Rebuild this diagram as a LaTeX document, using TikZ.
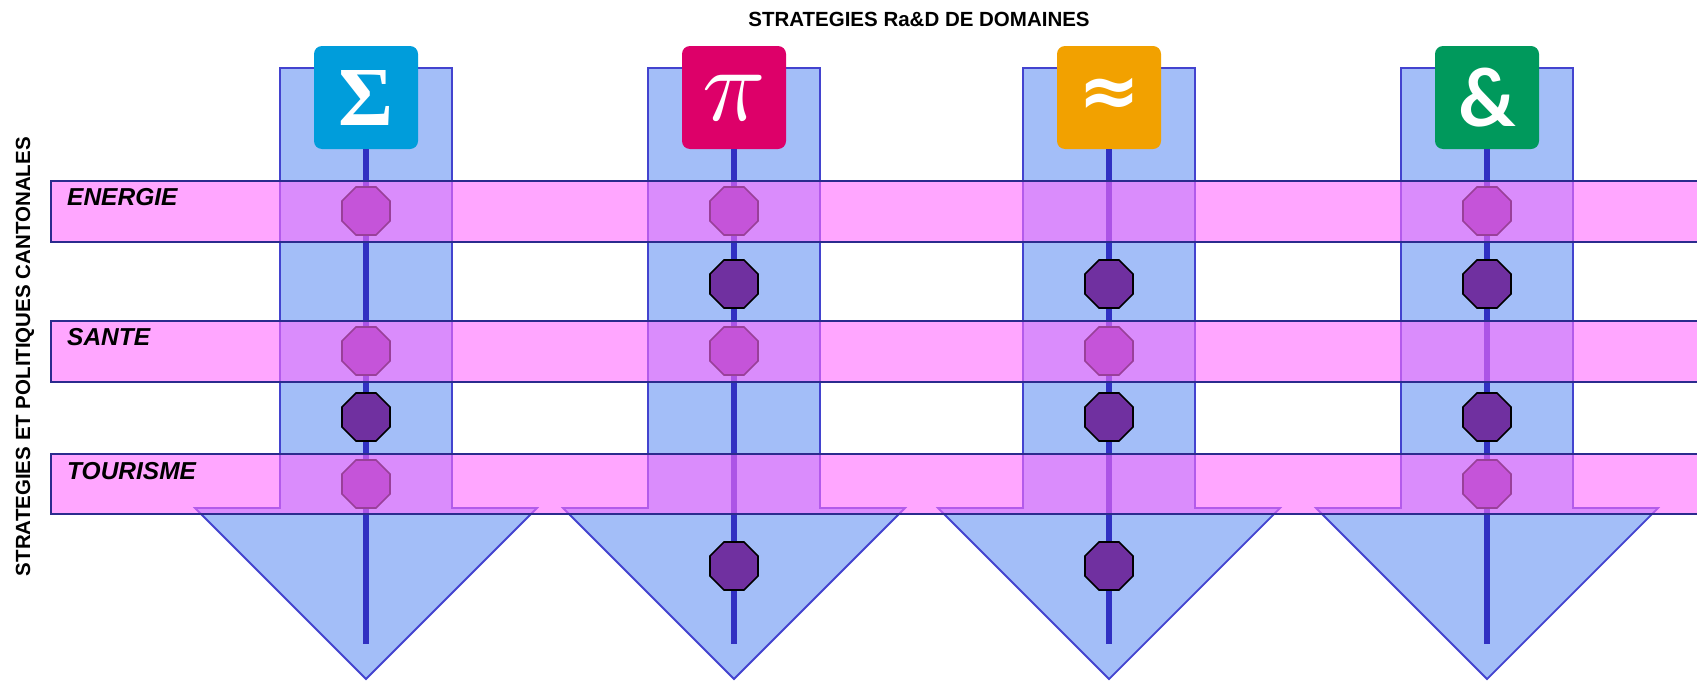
\documentclass[tikz,border=0pt]{standalone}
\usepackage{graphicx}
\usepackage{fontspec}
\setmainfont{Liberation Sans}
\newfontfamily\symserif{Liberation Serif}
\newfontfamily\symsans{Lato}
\newfontfamily\symdeja{DejaVu Sans}
\usetikzlibrary{shapes.geometric}
\definecolor{arrowfill}{HTML}{A3BEF8}
\definecolor{arrowdraw}{HTML}{4343CF}
\definecolor{vlinecol}{HTML}{3030C2}
\definecolor{banddraw}{HTML}{2B2B8E}
\definecolor{bandfill}{HTML}{FF6CFF}
\definecolor{octofill}{HTML}{7030A0}
\definecolor{boxsigma}{HTML}{009DDB}
\definecolor{boxpi}{HTML}{DD0069}
\definecolor{boxapprox}{HTML}{F2A100}
\definecolor{boxamp}{HTML}{00995C}
\begin{document}
\begin{tikzpicture}[x=1pt,y=-1pt,
  arrowshape/.style={fill=arrowfill, draw=arrowdraw, line width=1.8pt, line join=miter},
  vline/.style={draw=vlinecol, line width=6pt},
  iconbox/.style={rectangle, rounded corners=8pt, minimum width=104pt, minimum height=103pt, inner sep=0pt, text=white},
  octo/.style={regular polygon, regular polygon sides=8, minimum size=52pt, inner sep=0pt, outer sep=0pt, fill=octofill, draw=black, line width=1.6pt},
  band/.style={fill=bandfill, fill opacity=0.6, draw=banddraw, line width=2pt},
  bandlabel/.style={anchor=base west, inner sep=0pt, font=\fontsize{24.5}{28}\selectfont\bfseries\itshape},
  headtext/.style={inner sep=0pt, font=\fontsize{20.5}{24}\selectfont\bfseries}
]
\useasboundingbox (0,0) rectangle (1697,680);
\fill[white] (0,0) rectangle (1697,680);

% arrows
\foreach \cx in {366,734,1109,1487}{
  \draw[arrowshape] (\cx-86,68) -- (\cx+86,68) -- (\cx+86,508) -- (\cx+171,508) -- (\cx,679) -- (\cx-171,508) -- (\cx-86,508) -- cycle;
}

% icon boxes
\node[iconbox, fill=boxsigma] (box1) at (366,97.5) {\fontsize{84}{84}\selectfont\symserif\bfseries Σ};
\node[iconbox, fill=boxpi] (box2) at (734,97.5) {\scalebox{10.5}{$\pi$}};
\node[iconbox, fill=boxapprox] (box3) at (1109,97.5) {\fontsize{74}{74}\selectfont\symdeja\bfseries ≈};
\node[iconbox, fill=boxamp] (box4) at (1487,97.5) {\fontsize{80}{80}\selectfont\symsans\bfseries \&};

% vertical lines
\coordinate (end1) at (366,644);
\coordinate (end2) at (734,644);
\coordinate (end3) at (1109,644);
\coordinate (end4) at (1487,644);
\draw[vline] (box1.south) -- (end1);
\draw[vline] (box2.south) -- (end2);
\draw[vline] (box3.south) -- (end3);
\draw[vline] (box4.south) -- (end4);

% octagons column 1
\node[octo] (o1e) at (366,211) {};
\node[octo] (o1s) at (366,351) {};
\node[octo] (o1b) at (366,417) {};
\node[octo] (o1t) at (366,484) {};
% column 2
\node[octo] (o2e) at (734,211) {};
\node[octo] (o2a) at (734,284) {};
\node[octo] (o2s) at (734,351) {};
\node[octo] (o2c) at (734,566) {};
% column 3
\node[octo] (o3a) at (1109,284) {};
\node[octo] (o3s) at (1109,351) {};
\node[octo] (o3b) at (1109,417) {};
\node[octo] (o3c) at (1109,566) {};
% column 4
\node[octo] (o4e) at (1487,211) {};
\node[octo] (o4a) at (1487,284) {};
\node[octo] (o4b) at (1487,417) {};
\node[octo] (o4t) at (1487,484) {};

% bands
\path[band] (50.7,180.5) rectangle (1712,241.5);
\path[band] (50.7,320.5) rectangle (1712,381.5);
\path[band] (50.7,454) rectangle (1712,514);

% labels
\node[bandlabel] (lenergie) at (67,205.5) {ENERGIE};
\node[bandlabel] (lsante) at (67,345.5) {SANTE};
\node[bandlabel] (ltourisme) at (67,479.5) {TOURISME};

\node[headtext, anchor=base] (title) at (919,26.7) {STRATEGIES Ra\&D DE DOMAINES};
\node[headtext, anchor=base, rotate=90] (side) at (30,356.7) {STRATEGIES ET POLITIQUES CANTONALES};
\end{tikzpicture}
\end{document}
